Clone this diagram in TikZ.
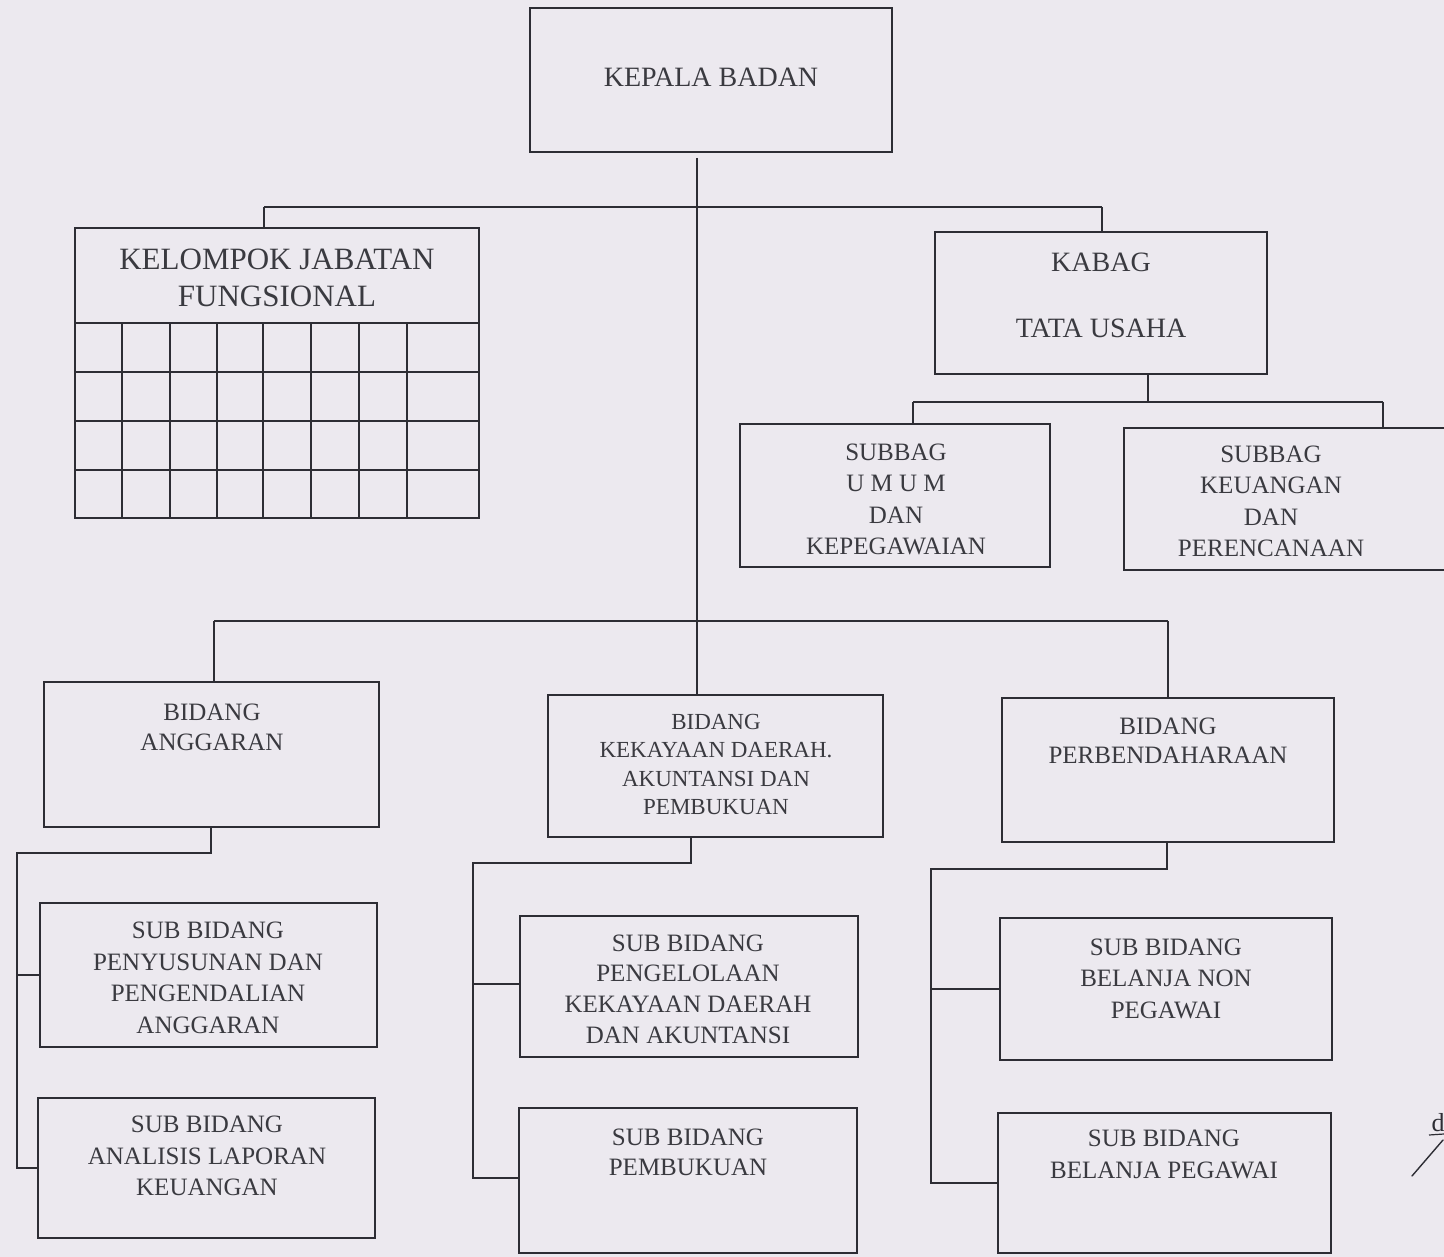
\documentclass[tikz,border=0pt]{standalone}
\usepackage{fontspec}
\setmainfont{Liberation Serif}
\definecolor{paper}{RGB}{236,233,239}
\definecolor{ln}{RGB}{45,45,52}
\definecolor{tx}{RGB}{58,58,64}
\newcommand{\orgbox}[5]{\node[orgrect, minimum width={(#4)-(#2)}, minimum height={(#5)-(#3)}] (#1) at (#2,#3) {};}
\begin{document}
\begin{tikzpicture}[x=1pt,y=-1pt,
  orgrect/.style={draw=ln, line width=1.5pt, rectangle, inner sep=0pt, outer sep=0pt, anchor=north west},
  conn/.style={draw=ln, line width=1.4pt},
  lbl/.style={text=tx, align=center, inner sep=0pt, font=\fontsize{25}{31.5}\selectfont},
  big/.style={lbl, font=\fontsize{28}{34}\selectfont},
  huge/.style={lbl, font=\fontsize{31}{37}\selectfont},
  mid/.style={lbl, font=\fontsize{25}{29.5}\selectfont},
  small/.style={lbl, font=\fontsize{23}{28.3}\selectfont}]
\useasboundingbox (0,0) rectangle (1444,1257);
\fill[paper] (0,0) rectangle (1444,1257);

% ---------- boxes ----------
\orgbox{kepala}{530}{8}{892}{152}
\orgbox{kelompok}{75}{228}{479}{518}
\orgbox{kabag}{935}{232}{1267}{374}
\orgbox{umum}{740}{424}{1050}{567}
\orgbox{keu}{1124}{428}{1452}{570}
\orgbox{angg}{44}{682}{379}{827}
\orgbox{kekay}{548}{695}{883}{837}
\orgbox{perb}{1002}{698}{1334}{842}
\orgbox{penyu}{40}{903}{377}{1047}
\orgbox{anal}{38}{1098}{375}{1238}
\orgbox{pengel}{520}{916}{858}{1057}
\orgbox{pembuk}{519}{1108}{857}{1253}
\orgbox{nonpeg}{1000}{918}{1332}{1060}
\orgbox{peg}{998}{1113}{1331}{1253}

% ---------- grid of the functional group ----------
\draw[conn] (75,323) -- (479,323);
\foreach \yy in {372,421,470} \draw[conn] (75,\yy) -- (479,\yy);
\foreach \xx in {122,170,217,263,311,359,407} \draw[conn] (\xx,323) -- (\xx,518);

% ---------- texts ----------
\node[big] (kepalaT) at (711,77) {KEPALA BADAN};
\node[huge] (kelompokT) at (277,277.5) {KELOMPOK JABATAN\\FUNGSIONAL};
\node[big] (kabagT) at (1101,295) {KABAG\\[32pt]TATA USAHA};
\node[lbl] (umumT) at (896,499.5) {SUBBAG\\U M U M\\DAN\\KEPEGAWAIAN};
\node[lbl] (keuT) at (1271,501.5) {SUBBAG\\KEUANGAN\\DAN\\PERENCANAAN};
\node[mid] (anggT) at (212,727.5) {BIDANG\\ANGGARAN};
\node[small] (kekayT) at (716,764.5) {BIDANG\\KEKAYAAN DAERAH.\\AKUNTANSI DAN\\PEMBUKUAN};
\node[mid] (perbT) at (1168,741) {BIDANG\\PERBENDAHARAAN};
\node[lbl] (penyuT) at (208,978) {SUB BIDANG\\PENYUSUNAN DAN\\PENGENDALIAN\\ANGGARAN};
\node[lbl] (analT) at (207,1156) {SUB BIDANG\\ANALISIS LAPORAN\\KEUANGAN};
\node[lbl, font=\fontsize{25}{30.7}\selectfont] (pengelT) at (688,989) {SUB BIDANG\\PENGELOLAAN\\KEKAYAAN DAERAH\\DAN AKUNTANSI};
\node[lbl, font=\fontsize{25}{30}\selectfont] (pembukT) at (688,1152) {SUB BIDANG\\PEMBUKUAN};
\node[lbl] (nonpegT) at (1166,978.5) {SUB BIDANG\\BELANJA NON\\PEGAWAI};
\node[lbl, font=\fontsize{25}{32}\selectfont] (pegT) at (1164,1154) {SUB BIDANG\\BELANJA PEGAWAI};

% ---------- connector junctions ----------
\coordinate (t0) at (697,158);
\coordinate (t1) at (697,207);
\coordinate (tl) at (264,207);
\coordinate (tr) at (1102,207);
\coordinate (t2) at (697,621);
\coordinate (bl) at (214,621);
\coordinate (br) at (1168,621);
\coordinate (k1) at (1148,402);
\coordinate (kl) at (913,402);
\coordinate (kr) at (1383,402);
\coordinate (a1) at (211,853);
\coordinate (a2) at (17,853);
\coordinate (a3) at (17,1168);
\coordinate (a4) at (17,975);
\coordinate (m1) at (691,863);
\coordinate (m2) at (473,863);
\coordinate (m3) at (473,1178);
\coordinate (m4) at (473,984);
\coordinate (r1) at (1167,869);
\coordinate (r2) at (931,869);
\coordinate (r3) at (931,1183);
\coordinate (r4) at (931,989);

% ---------- connectors ----------
\draw[conn] (t0) -- (t1) -- (t2) -- (t2 |- kekay.north);
\draw[conn] (tl) -- (tr);
\draw[conn] (tl) -- (tl |- kelompok.north);
\draw[conn] (tr) -- (tr |- kabag.north);
\draw[conn] (k1 |- kabag.south) -- (k1);
\draw[conn] (kl) -- (kr);
\draw[conn] (kl) -- (kl |- umum.north);
\draw[conn] (kr) -- (kr |- keu.north);
\draw[conn] (bl) -- (br);
\draw[conn] (bl) -- (bl |- angg.north);
\draw[conn] (br) -- (br |- perb.north);
% left branch
\draw[conn] (a1 |- angg.south) -- (a1) -- (a2) -- (a3) -- (a3 -| anal.west);
\draw[conn] (a4) -- (a4 -| penyu.west);
% middle branch
\draw[conn] (m1 |- kekay.south) -- (m1) -- (m2) -- (m3) -- (m3 -| pembuk.west);
\draw[conn] (m4) -- (m4 -| pengel.west);
% right branch
\draw[conn] (r1 |- perb.south) -- (r1) -- (r2) -- (r3) -- (r3 -| peg.west);
\draw[conn] (r4) -- (r4 -| nonpeg.west);

% ---------- handwritten mark ----------
\node[text=ln, inner sep=0pt, font=\fontsize{26}{30}\selectfont] (dmark) at (1438,1123) {d};
\draw[ln, line width=1.4pt, line cap=round] (1443,1140) -- (1412,1176);
\draw[ln, line width=1.2pt] (1429,1135) -- (1444,1134);
\end{tikzpicture}
\end{document}
